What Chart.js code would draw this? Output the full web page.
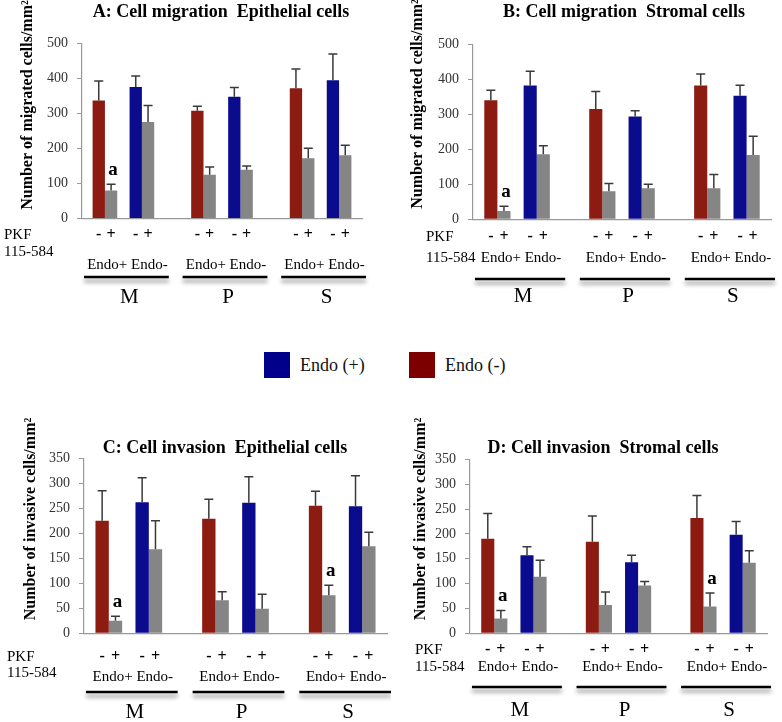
<!DOCTYPE html>
<html>
<head>
<meta charset="utf-8">
<script src="https://cdn.jsdelivr.net/npm/chart.js@4.4.0/dist/chart.umd.min.js"></script>
<style>
  body { margin: 0; background: #fff; }
  #wrap { position: relative; width: 782px; height: 722px; overflow: hidden; }
  canvas { position: absolute; }
  .key { position: absolute; top: 352px; height: 26px; display: flex; align-items: center;
         font-family: "Liberation Serif", "Times New Roman", serif; font-size: 18px; color: #111; }
  .key span { display: inline-block; width: 26px; height: 26px; margin-right: 10px; }
</style>
</head>
<body>
<div id="wrap">
  <canvas id="chartA" width="391" height="330" style="left:0;top:0"></canvas>
  <canvas id="chartB" width="391" height="330" style="left:391px;top:0"></canvas>
  <canvas id="chartC" width="391" height="342" style="left:0;top:380px"></canvas>
  <canvas id="chartD" width="391" height="342" style="left:391px;top:380px"></canvas>
  <div class="key" style="left:264px"><span style="background:#00008a"></span>Endo (+)</div>
  <div class="key" style="left:409px"><span style="background:#7d0000"></span>Endo (-)</div>
</div>
<script>
// groups on the x axis
const groups = ['M', 'P', 'S'];

// A: cell migration, epithelial cells
const aRed = [337, 308, 372];   const aRedSd = [56, 13, 55];
const aGray1 = [80, 125, 172];  const aGray1Sd = [18, 22, 29];
const aBlue = [376, 348, 395];  const aBlueSd = [31, 26, 75];
const aGray2 = [276, 139, 181]; const aGray2Sd = [47, 11, 28];
const aSig = [true, false, false];

// B: cell migration, stromal cells
const bRed = [340, 315, 382];   const bRedSd = [29, 50, 33];
const bGray1 = [24, 80, 89];    const bGray1Sd = [13, 22, 39];
const bBlue = [382, 294, 353];  const bBlueSd = [41, 16, 30];
const bGray2 = [186, 89, 184];  const bGray2Sd = [24, 11, 53];
const bSig = [true, false, false];

// C: cell invasion, epithelial cells
const cRed = [225, 229, 255];   const cRedSd = [60, 39, 29];
const cGray1 = [25, 66, 76];    const cGray1Sd = [9, 17, 20];
const cBlue = [262, 261, 254];  const cBlueSd = [49, 52, 61];
const cGray2 = [168, 49, 174];  const cGray2Sd = [57, 29, 28];
const cSig = [true, false, true];

// D: cell invasion, stromal cells
const dRed = [190, 184, 232];   const dRedSd = [51, 52, 45];
const dGray1 = [30, 57, 54];    const dGray1Sd = [16, 26, 27];
const dBlue = [157, 143, 198];  const dBlueSd = [17, 14, 27];
const dGray2 = [114, 96, 142];  const dGray2Sd = [33, 8, 24];
const dSig = [true, false, true];

const migTicks = { max: 500, step: 100 };
const invTicks = { max: 350, step: 50 };

const serif = '"Liberation Serif", "Times New Roman", serif';
const RED = '#8c1b12', BLUE = '#0b0b8e', GRAY = '#858585';

function pts(vals) {
  return vals.map((v, i) => ({ x: i, y: v }));
}

// error bars, "a" marks and all the text round the plot
const deco = {
  id: 'deco',
  afterDatasetsDraw(chart) {
    const ctx = chart.ctx, y = chart.scales.y;
    ctx.save();
    chart.data.datasets.forEach((ds, i) => {
      if (!ds.sd) return;
      chart.getDatasetMeta(i).data.forEach((bar, j) => {
        const top = y.getPixelForValue(ds.data[j].y + ds.sd[j]);
        ctx.strokeStyle = '#3a3a3a';
        ctx.lineWidth = 1.5;
        ctx.beginPath();
        ctx.moveTo(bar.x, bar.y);
        ctx.lineTo(bar.x, top);
        ctx.moveTo(bar.x - 4.5, top);
        ctx.lineTo(bar.x + 4.5, top);
        ctx.stroke();
        if (ds.sig && ds.sig[j]) {
          ctx.fillStyle = '#000';
          ctx.font = 'bold 19px ' + serif;
          ctx.textAlign = 'center';
          ctx.textBaseline = 'alphabetic';
          ctx.fillText('a', bar.x + 2, top - 9);
        }
      });
    });
    ctx.restore();
  },
  afterDraw(chart, args, o) {
    const ctx = chart.ctx, x = chart.scales.x;
    ctx.save();
    ctx.fillStyle = '#000';
    ctx.textBaseline = 'middle';

    ctx.textAlign = 'center';
    ctx.font = 'bold 18px ' + serif;
    ctx.fillText(o.title, o.titleX, o.titleY);

    ctx.save();
    ctx.translate(o.yTitleX, o.yTitleY);
    ctx.rotate(-Math.PI / 2);
    ctx.font = 'bold 16px ' + serif;
    ctx.fillText(o.yTitle, 0, 0);
    ctx.restore();

    ctx.textAlign = 'left';
    ctx.font = '15px ' + serif;
    ctx.fillText('PKF', o.pkfX, o.signY);
    ctx.fillText('115-584', o.pkfX, o.pkf2Y);

    ctx.textAlign = 'center';
    ctx.font = 'bold 16px ' + serif;
    chart.data.datasets.forEach((ds, i) => {
      if (!ds.sign) return;
      chart.getDatasetMeta(i).data.forEach(bar => ctx.fillText(ds.sign, bar.x, o.signY));
    });

    groups.forEach((g, i) => {
      const cx = x.getPixelForValue(i);
      const half = (x.getPixelForValue(1) - x.getPixelForValue(0)) * 0.43;
      ctx.font = '15px ' + serif;
      ctx.fillText('Endo+ Endo-', cx + 4, o.endoY);

      ctx.save();
      ctx.strokeStyle = '#000';
      ctx.lineWidth = 2.5;
      ctx.shadowColor = 'rgba(0,0,0,0.45)';
      ctx.shadowBlur = 4;
      ctx.shadowOffsetY = 4;
      ctx.beginPath();
      ctx.moveTo(cx + 3 - half, o.lineY);
      ctx.lineTo(cx + 3 + half, o.lineY);
      ctx.stroke();
      ctx.restore();

      ctx.font = '21px ' + serif;
      ctx.fillText(g, cx + 6, o.groupY);
    });
    ctx.restore();
  }
};

function makePanel(id, p, s) {
  const c = document.getElementById(id);
  const W = c.width, H = c.height;
  new Chart(c, {
    type: 'bar',
    data: {
      datasets: [
        { label: 'Endo (-)', data: pts(s.red), sd: s.redSd, sign: '-', backgroundColor: RED },
        { label: 'Endo (-) PKF', data: pts(s.gray1), sd: s.gray1Sd, sig: s.sig, sign: '+', backgroundColor: GRAY },
        { label: '', data: pts([null, null, null]), backgroundColor: 'rgba(0,0,0,0)' },
        { label: 'Endo (+)', data: pts(s.blue), sd: s.blueSd, sign: '-', backgroundColor: BLUE },
        { label: 'Endo (+) PKF', data: pts(s.gray2), sd: s.gray2Sd, sign: '+', backgroundColor: GRAY }
      ]
    },
    options: {
      responsive: false,
      animation: false,
      barPercentage: 1,
      categoryPercentage: 0.625,
      layout: { padding: { left: 0, top: p.top, right: W - p.right, bottom: H - p.bottom } },
      scales: {
        x: {
          type: 'linear', min: -0.42, max: 2.42, offset: false,
          ticks: { display: false, stepSize: 1, includeBounds: false },
          grid: { display: false, offset: false },
          border: { display: true, color: '#999', width: 1.2 },
          afterFit: sc => { sc.height = 0; }
        },
        y: {
          min: 0, max: s.ticks.max,
          ticks: { stepSize: s.ticks.step, color: '#333', padding: 9, font: { family: serif, size: 14 } },
          grid: { drawOnChartArea: false, tickLength: 5, color: '#999' },
          border: { display: true, color: '#999', width: 1.2 },
          afterFit: sc => { sc.width = p.left; }
        }
      },
      plugins: {
        legend: { display: false },
        tooltip: { enabled: false },
        deco: p
      }
    },
    plugins: [deco]
  });
}

makePanel('chartA', {
  left: 82, right: 362, top: 43.5, bottom: 218.5,
  title: 'A: Cell migration  Epithelial cells', titleX: 221, titleY: 12,
  yTitle: 'Number of migrated cells/mm²', yTitleX: 28, yTitleY: 105,
  pkfX: 4, signY: 235, pkf2Y: 252, endoY: 265, lineY: 277, groupY: 297
}, { red: aRed, redSd: aRedSd, gray1: aGray1, gray1Sd: aGray1Sd, blue: aBlue, blueSd: aBlueSd,
     gray2: aGray2, gray2Sd: aGray2Sd, sig: aSig, ticks: migTicks });

makePanel('chartB', {
  left: 82, right: 380, top: 44.3, bottom: 219.3,
  title: 'B: Cell migration  Stromal cells', titleX: 233, titleY: 12,
  yTitle: 'Number of migrated cells/mm²', yTitleX: 27, yTitleY: 104,
  pkfX: 35, signY: 237, pkf2Y: 258, endoY: 258, lineY: 279, groupY: 296
}, { red: bRed, redSd: bRedSd, gray1: bGray1, gray1Sd: bGray1Sd, blue: bBlue, blueSd: bBlueSd,
     gray2: bGray2, gray2Sd: bGray2Sd, sig: bSig, ticks: migTicks });

makePanel('chartC', {
  left: 84, right: 387, top: 78.3, bottom: 253.3,
  title: 'C: Cell invasion  Epithelial cells', titleX: 225, titleY: 68,
  yTitle: 'Number of invasive cells/mm²', yTitleX: 31, yTitleY: 139,
  pkfX: 7, signY: 277, pkf2Y: 293, endoY: 297, lineY: 312, groupY: 332
}, { red: cRed, redSd: cRedSd, gray1: cGray1, gray1Sd: cGray1Sd, blue: cBlue, blueSd: cBlueSd,
     gray2: cGray2, gray2Sd: cGray2Sd, sig: cSig, ticks: invTicks });

makePanel('chartD', {
  left: 79, right: 376, top: 79.3, bottom: 253.3,
  title: 'D: Cell invasion  Stromal cells', titleX: 212, titleY: 68,
  yTitle: 'Number of invasive cells/mm²', yTitleX: 30, yTitleY: 139,
  pkfX: 24, signY: 270, pkf2Y: 287, endoY: 287, lineY: 307, groupY: 330
}, { red: dRed, redSd: dRedSd, gray1: dGray1, gray1Sd: dGray1Sd, blue: dBlue, blueSd: dBlueSd,
     gray2: dGray2, gray2Sd: dGray2Sd, sig: dSig, ticks: invTicks });
</script>
</body>
</html>
